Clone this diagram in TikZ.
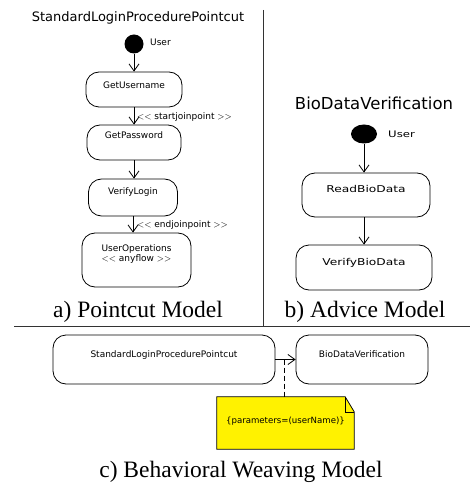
\documentclass[tikz,border=0pt]{standalone}
\usepackage{fontspec}
\setmainfont{Liberation Serif}
\newfontfamily\umlfont{DejaVu Sans}
\newfontfamily\umlwide[FakeStretch=1.3]{DejaVu Sans}
\usetikzlibrary{arrows.meta,calc,shapes.geometric}
\begin{document}
\begin{tikzpicture}[x=1pt,y=-1pt,
  statebox/.style={draw, line width=0.8pt, rounded corners=13pt, inner sep=0pt, align=center},
  lbl/.style={inner sep=0pt, font=\umlfont\fontsize{9}{10.5}\selectfont},
  flow/.style={line width=0.8pt, -{Straight Barb[length=7pt,width=10pt,line width=0.8pt]}},
  caption/.style={inner sep=0pt, font=\fontsize{23.5}{26}\selectfont},
  divider/.style={line width=1pt, draw=black!80}]
\useasboundingbox (0,0) rectangle (470,486);
% ---------- a) pointcut model ----------
\node[lbl, font=\umlfont\fontsize{13}{15}\selectfont] (titleL) at (138,18) {StandardLoginProcedurePointcut};
\node[circle, fill=black, minimum size=19pt, inner sep=0pt] (dotL) at (134,44) {};
\node[lbl, anchor=west] (userL) at (150,42) {User};
\node[statebox, lbl, minimum width=96pt, text height=17pt, text depth=18pt] (getu) at (134,89.5) {GetUsername};
\node[statebox, lbl, minimum width=94pt, text height=14pt, text depth=21pt] (getp) at (134,142.5) {GetPassword};
\node[statebox, lbl, minimum width=89pt, text height=15.5pt, text depth=21.5pt] (verl) at (133,197.5) {VerifyLogin};
\node[statebox, lbl, minimum width=109pt, minimum height=54pt] (userops) at (136.5,260) {};
\node[lbl, align=center] (useropsT) at (136.5,254) {UserOperations\\$<<$ anyflow $>>$};
\draw[flow] (dotL.south) -- (dotL.south |- getu.north);
\draw[flow] (getu.south) -- (getu.south |- getp.north);
\draw[flow] (getp.south) -- (getp.south |- verl.north);
\draw[flow] (verl.south) -- (verl.south |- userops.north);
\node[lbl, anchor=west] (startjp) at (137,117) {$<<$ startjoinpoint $>>$};
\node[lbl, anchor=west] (endjp) at (137,225) {$<<$ endjoinpoint $>>$};
\node[caption] (capA) at (138,312) {a) Pointcut Model};
% ---------- b) advice model ----------
\node[lbl, font=\umlfont\fontsize{16.5}{19}\selectfont] (titleR) at (374,103) {BioDataVerification};
\node[ellipse, fill=black, minimum width=26pt, minimum height=19pt, inner sep=0pt] (dotR) at (364,134) {};
\node[lbl, anchor=west, font=\umlwide\fontsize{9}{10.5}\selectfont] (userR) at (388,134) {User};
\node[statebox, lbl, font=\umlwide\fontsize{9.4}{11}\selectfont, minimum width=128pt, text height=20pt, text depth=24pt] (readbio) at (366,195) {ReadBioData};
\node[statebox, lbl, font=\umlwide\fontsize{9.4}{11}\selectfont, minimum width=136pt, text height=20pt, text depth=25pt] (verbio) at (364,267.5) {VerifyBioData};
\draw[flow] (dotR.south) -- (dotR.south |- readbio.north);
\draw[flow] (dotR.south |- readbio.south) -- (dotR.south |- verbio.north);
\node[caption] (capB) at (365,312) {b) Advice Model};
% ---------- dividers ----------
\coordinate (vtop) at (263,10);
\coordinate (vbot) at (263,326);
\coordinate (hl) at (14,326);
\coordinate (hr) at (470,326);
\draw[divider] (vtop) -- (vbot);
\draw[divider] (hl) -- (hr);
% ---------- c) behavioral weaving model ----------
\node[statebox, lbl, minimum width=222pt, text height=22pt, text depth=27pt] (slpp) at (164,359.5) {StandardLoginProcedurePointcut};
\node[statebox, lbl, minimum width=132pt, text height=22pt, text depth=27pt] (bdv) at (362,359.5) {BioDataVerification};
\draw[flow] (slpp.east) -- (bdv.west);
\coordinate (mid) at ($(slpp.east)!0.43!(bdv.west)$);
\node[inner sep=0pt, minimum width=137pt, minimum height=52pt] (note) at (285.5,423) {};
\fill[yellow] (note.north west) -- ([xshift=-9pt]note.north east) -- ([yshift=-15pt]note.north east) -- (note.south east) -- (note.south west) -- cycle;
\draw[line width=0.8pt] (note.north west) -- ([xshift=-9pt]note.north east) -- ([yshift=-15pt]note.north east) -- (note.south east) -- (note.south west) -- cycle;
\draw[line width=0.6pt] ([xshift=-9pt]note.north east) -- ([xshift=-9pt,yshift=-15pt]note.north east) -- ([yshift=-15pt]note.north east);
\node[lbl, font=\umlfont\fontsize{8.6}{10}\selectfont] (noteT) at (285.5,421) {\{parameters=(userName)\}};
\draw[line width=0.8pt, dash pattern=on 5pt off 3pt] (mid) -- (mid |- note.north);
\node[caption] (capC) at (241,472) {c) Behavioral Weaving Model};
\end{tikzpicture}
\end{document}
